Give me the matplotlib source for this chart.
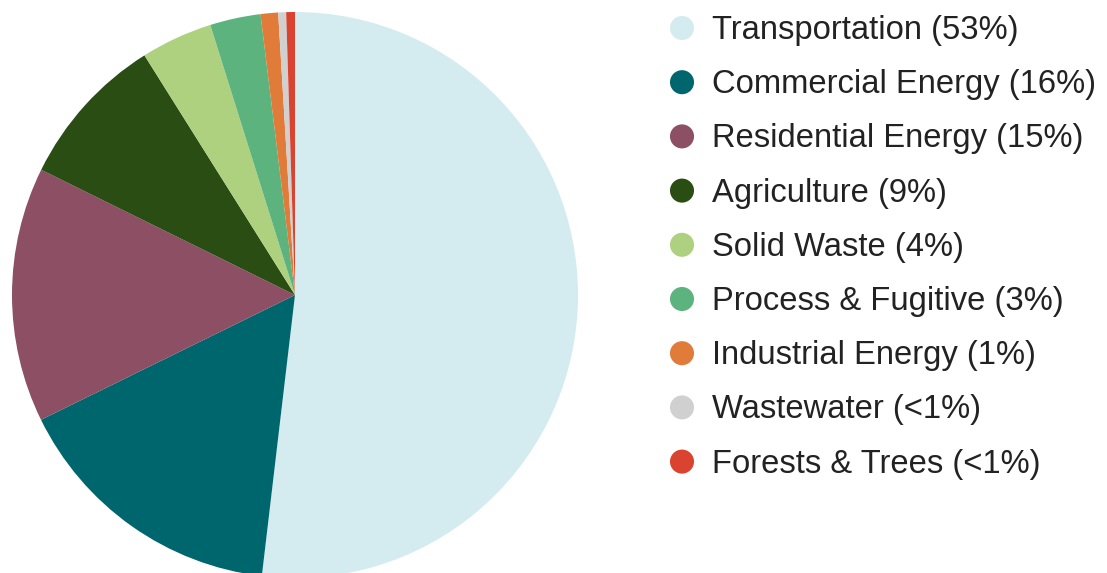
import matplotlib
matplotlib.use("Agg")
import matplotlib.pyplot as plt

# slice shares, clockwise from 12 o'clock
sectors = ["Transportation", "Commercial Energy", "Residential Energy",
           "Agriculture", "Solid Waste", "Process & Fugitive",
           "Industrial Energy", "Wastewater", "Forests & Trees"]
shares = [52.0, 15.9, 14.6, 8.8, 4.1, 2.9, 1.0, 0.45, 0.5]
share_labels = ["53%", "16%", "15%", "9%", "4%", "3%", "1%", "<1%", "<1%"]
colors = ["#d4ebf0", "#00666e", "#8c4f64", "#2a4d14", "#aed17f",
          "#5db37e", "#e07b39", "#d0d0d0", "#d9432f"]

W, H = 1107, 573
fig = plt.figure(figsize=(W / 100, H / 100), dpi=100)
ax = fig.add_axes([0, 0, 1, 1])

# y axis is inverted below, so counterclock=True draws clockwise on screen
ax.pie(shares, colors=colors, startangle=-90, counterclock=True,
       center=(295, 295), radius=283, frame=True,
       wedgeprops=dict(linewidth=0))
ax.set_xlim(0, W)
ax.set_ylim(H, 0)
ax.set_aspect("equal")
ax.set_axis_off()

# legend drawn by hand
y0, dy = 28, 54.2
for i, (name, lab, c) in enumerate(zip(sectors, share_labels, colors)):
    y = y0 + i * dy
    ax.scatter([682], [y], s=300, color=c, edgecolors="none", zorder=3)
    ax.text(712, y + 2.5, f"{name} ({lab})", fontsize=23.6, color="#222222",
            family="Liberation Sans", va="center", ha="left")

fig.savefig("out.png", dpi=100)
